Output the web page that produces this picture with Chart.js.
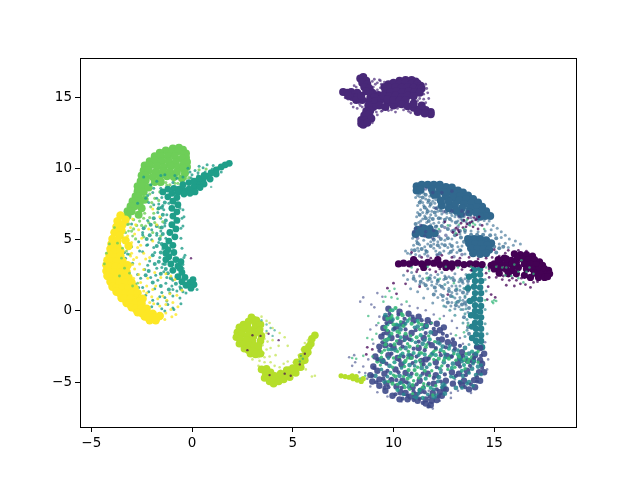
<!DOCTYPE html>
<html><head><meta charset="utf-8">
<style>html,body{margin:0;padding:0;background:#fff}canvas{display:block}</style>
<script src="https://cdn.jsdelivr.net/npm/chart.js@4"></script></head>
<body><canvas id="c" width="640" height="480"></canvas>
<script>
const xTicks=[-5,0,5,10,15];
const yTicks=[-5,0,5,10,15];
const classColors=['#440154','#482878','#3e4a89','#31688e','#26828e','#1f9e89','#35b779','#6ece58','#b5de2b','#fde725'];
// every list is x,y,x,y,... in data units
const top1Core=[7.5,15.35,7.7,15.3,7.9,15.35,8.0,15.15,8.2,15.3,7.95,15.0,8.2,15.0,8.45,14.8,8.15,14.8,8.4,15.1,7.75,15.1,8.85,14.95,9.25,15.15,
8.35,16.3,8.5,16.4,8.65,16.15,8.45,16.0,8.7,15.9,8.55,15.7,8.8,15.6,8.65,15.4,8.95,15.3,9.05,15.0,
8.8,14.7,9.1,14.7,9.4,14.85,9.7,14.6,9.3,14.4,9.0,14.3,9.6,14.3,10.0,14.4,8.75,14.4,10.2,14.55,8.85,14.05,
8.65,14.0,8.55,13.7,8.8,13.8,8.4,13.4,8.6,13.4,8.9,13.5,8.4,13.15,8.5,13.05,8.7,13.2,
10.3,16.15,10.6,16.2,10.9,16.2,11.1,16.1,9.75,15.9,10.0,16.0,10.3,15.95,10.6,16.0,10.9,15.95,11.2,15.95,11.35,15.8,
9.55,15.7,9.8,15.65,10.1,15.7,10.4,15.65,10.7,15.7,11.0,15.65,11.3,15.6,11.4,15.6,9.6,15.4,9.85,15.35,10.15,15.4,10.45,15.35,10.75,15.4,11.05,15.35,11.3,15.3,
9.5,15.1,9.8,15.05,10.1,15.1,10.4,15.0,10.7,15.1,11.0,15.05,9.7,14.85,10.0,14.8,10.3,14.75,10.6,14.8,
10.4,14.5,10.7,14.35,11.0,14.25,11.3,14.15,11.6,14.1,11.85,13.95,11.85,13.8,11.55,13.85,11.2,13.95,11.0,14.55,11.4,14.4];
const top1Dust=[9.1,15.9,9.2,15.5,9.3,15.2,9.0,15.7,9.2,16.0,8.95,16.1,9.4,15.9,9.35,16.15,11.5,15.2,11.3,14.9,11.2,14.75,11.6,14.6,11.5,14.85,10.95,14.75,8.2,14.2,8.0,14.3,8.35,14.4,7.9,14.55,7.75,14.85,9.15,13.95,9.2,13.75,9.45,14.05,10.2,14.2,10.5,14.1,10.85,13.9,9.9,14.1,8.05,15.8,8.15,15.7,9.3,16.2,11.65,15.6,11.6,15.9,8.95,13.2,9.1,15.35,8.95,15.55,9.35,15.65,9.05,16.25,11.7,15.3,11.75,14.9,9.55,16.05,9.4,14.0,9.75,14.05,10.1,13.95,10.75,14.0,8.3,14.55,8.45,14.3,7.6,14.95];
const up3Core=[11.15,8.75,11.4,8.85,11.7,8.85,12.0,8.85,12.3,8.85,12.6,8.7,12.9,8.65,13.2,8.45,13.45,8.3,13.7,8.1,13.95,7.85,14.2,7.6,14.4,7.3,14.6,7.0,14.8,6.65,
11.15,8.45,11.35,8.5,11.9,8.55,12.3,8.55,12.7,8.35,13.0,8.25,13.3,8.05,13.6,7.85,13.85,7.55,14.1,7.25,14.35,6.95,14.55,6.65,12.6,8.0,12.95,7.95,13.25,7.75,13.5,7.5,13.8,7.2,14.1,6.9,14.3,6.6,
12.75,7.65,13.05,7.45,13.4,7.2,13.75,6.9,12.4,7.4,12.75,7.2,13.1,7.05,13.35,6.8,12.15,8.15,12.5,8.35,12.35,7.75,12.0,8.2,
13.7,5.05,14.0,5.05,14.3,5.05,14.6,4.95,14.85,4.75,13.75,4.75,14.05,4.7,14.35,4.7,14.65,4.6,13.85,4.4,14.15,4.35,14.45,4.35,14.75,4.3,13.95,4.05,14.3,4.0,14.6,4.05,
11.2,5.7,11.5,5.8,11.8,5.75,11.1,5.4,11.45,5.45,11.75,5.35,12.05,5.45];
const up3Dust=[11.2,8.1,11.5,8.25,11.8,8.05,11.35,7.75,11.6,7.85,11.95,7.7,12.15,8.15,11.5,7.4,11.8,7.35,12.05,7.55,12.2,7.0,11.9,7.0,11.65,6.85,11.35,7.1,11.15,6.6,11.45,6.45,11.8,6.55,12.1,6.7,12.35,6.5,12.65,6.55,12.9,6.3,11.25,6.2,11.65,6.2,12.0,6.15,12.25,6.2,13.35,6.45,13.6,6.25,14.3,6.05,14.05,6.4,14.65,6.1,14.95,6.0,15.15,5.8,15.35,5.55,15.55,5.3,15.75,5.05,15.35,5.15,15.05,5.35,15.25,4.7,15.55,4.75,15.7,4.45,15.95,4.6,16.3,4.7,16.05,4.9,
10.95,5.1,11.15,4.9,11.5,4.95,11.85,4.85,12.2,4.85,12.55,4.95,12.9,5.05,13.15,4.8,13.4,4.55,12.7,4.45,12.3,4.45,12.0,4.4,11.55,4.5,11.2,4.4,10.9,4.3,10.7,4.05,11.1,3.95,11.55,4.0,12.15,3.95,12.75,4.05,13.15,4.1,
10.5,2.5,10.9,2.7,11.3,2.45,11.65,2.65,12.05,2.35,12.4,2.7,12.75,2.4,13.05,2.6,13.35,2.3,13.6,2.55,11.1,2.1,11.5,1.95,11.9,2.05,12.3,1.8,12.7,2.0,13.1,1.75,13.45,1.95,11.7,1.55,12.1,1.4,12.5,1.55,12.9,1.3,13.3,1.45,13.65,1.2,12.2,.95,12.65,.85,13.05,.9,13.45,.75,12.85,.35,13.25,.3,13.6,.4,11.95,.55,11.5,.9,11.2,1.35,10.85,1.55,
11.1,7.95,11.3,8.0,11.45,7.6,11.7,7.6,11.2,7.4,11.95,7.95,12.1,7.8,11.65,7.15,12.0,7.25,12.25,7.35,11.45,6.9,11.2,6.9,11.85,6.75,11.35,6.3,11.55,6.65,12.4,6.8,12.65,6.85,12.9,6.7,13.05,6.6,12.5,6.2,12.8,6.0,12.15,5.95,11.85,6.05,11.5,5.95,13.2,6.3,13.5,6.6,13.9,6.3,14.2,6.3,14.5,6.35,14.75,6.3,14.85,5.7,14.55,5.6,14.2,5.55,13.85,5.6,13.55,5.5,13.3,5.4,
12.0,4.7,12.4,4.7,12.8,4.7,13.2,4.5,11.7,4.7,11.3,4.65,11.0,4.6,11.6,4.25,12.1,4.2,12.5,4.2,12.95,4.3,13.35,4.25,13.55,4.0,11.25,4.2,10.85,4.0,10.6,4.2,
10.7,2.2,11.0,2.45,11.45,2.25,11.85,2.5,12.2,2.55,12.55,2.45,12.95,2.35,13.25,2.05,13.55,2.25,13.7,1.85,11.3,1.85,11.7,2.15,12.15,1.9,12.5,2.2,12.9,1.75,13.3,1.75,13.55,1.55,11.9,1.8,12.35,1.15,12.75,1.6,13.15,1.2,13.55,.95,12.45,.75,12.9,.6,13.3,.95,13.65,.7,12.6,.3,13.05,.15,13.45,.1,13.7,-.1];
const upGrain3=[11.3,8.25,11.6,8.15,11.85,8.3,11.45,7.95,11.75,7.75,12.0,7.95,12.25,8.0,11.3,7.6,11.55,7.25,11.85,7.5,12.15,7.2,12.3,7.6,12.5,7.6,11.7,7.0,12.05,6.9,12.35,7.05,12.6,7.0,12.85,6.9,13.1,6.8,11.3,6.75,11.6,6.5,11.95,6.45,12.25,6.5,12.55,6.4,12.8,6.45,13.1,6.2,13.45,6.35,13.75,6.1,11.1,6.1,11.4,5.95,11.75,6.3,12.1,5.9,12.4,5.95,12.7,5.75,13.0,5.65,13.3,5.6,13.55,5.65,13.85,5.35,14.15,5.35,14.45,5.35,14.8,5.3,15.1,5.1,15.0,4.5,15.25,4.4,15.45,4.5,15.1,4.1,12.0,5.0,12.35,5.05,12.7,5.1,13.05,5.3,13.35,5.15,13.5,4.85,13.3,4.25,12.9,4.55,12.55,4.6,12.2,4.6,11.85,4.55,11.4,4.35,11.05,4.25,11.2,4.75,11.65,4.15,12.3,4.05,12.85,4.15,
11.0,2.25,11.35,2.05,11.8,2.25,12.2,2.1,12.6,2.3,13.0,2.15,13.4,2.1,13.7,2.1,11.6,1.8,12.05,1.65,12.4,1.7,12.75,1.4,13.1,1.45,13.45,1.3,13.7,1.4,12.0,1.15,12.45,1.05,12.85,1.05,13.2,.65,13.55,.55,12.7,.6,13.1,.4,13.4,.45,13.75,.2,13.5,-.45,13.7,-1.15,13.75,-1.6];
const c2Up=[11.2,5.1,11.55,5.25,11.95,5.1,12.25,5.2,12.6,5.3,12.9,5.6,13.2,5.9,12.55,5.85,11.0,5.55,11.35,6.0,12.9,7.0,13.25,6.6,13.55,6.75,13.85,6.55,12.5,6.95,12.1,7.2,11.95,8.3,11.6,8.55,12.4,8.3,12.9,8.4,13.0,3.8,12.2,3.9,11.7,3.85,11.3,3.85,13.4,3.95,11.1,5.8,11.6,5.55,12.3,5.6,12.0,5.65,14.15,6.5,13.7,6.95,13.4,7.0];
const mid0=[10.5,3.35,10.8,3.3,11.1,3.4,11.4,3.3,11.7,3.4,12.0,3.35,12.3,3.25,12.6,3.35,12.9,3.3,13.2,3.35,13.5,3.25,13.8,3.3,14.1,3.3,14.4,3.25,10.25,3.3,11.5,3.05,12.6,3.05,11.0,3.6,12.2,3.6,12.9,3.1,
14.85,3.2,15.0,3.3,15.3,3.35,15.6,3.3,15.9,3.2,15.0,2.95,15.3,3.0,15.6,2.9,15.9,2.85,16.2,3.05,15.25,2.65,15.7,2.6,16.1,2.6,15.2,3.6,15.5,3.7,
16.0,4.0,16.3,3.95,16.6,3.95,16.9,3.85,16.4,3.65,16.7,3.6,17.0,3.6,17.25,3.45,16.5,3.3,16.8,3.3,17.1,3.25,17.4,3.2,16.6,2.95,16.9,2.95,17.2,2.9,17.5,2.95,17.7,2.85,17.0,2.65,17.3,2.6,17.6,2.6,17.75,2.6,17.2,2.35,17.5,2.35,17.65,2.4,16.5,2.5,16.8,2.35,15.85,3.55,15.6,3.65,16.1,3.4,16.15,3.7];
const mid0Dust=[12.95,5.5,13.2,5.7,13.45,5.85,13.65,6.1,13.9,6.25,14.1,6.4,13.35,6.15,13.7,6.5,13.15,5.35,12.55,6.25,13.95,5.9,14.2,5.75,14.4,6.0,13.1,5.8,13.5,6.35,13.8,6.2,14.0,6.55,14.25,6.6,13.25,5.55,13.6,5.9,
10.9,4.1,11.4,3.75,11.85,3.7,12.4,3.9,12.9,3.75,13.3,3.7,13.75,3.75,14.2,3.65,10.7,2.8,11.2,2.9,11.8,2.9,12.3,2.95,12.9,2.85,13.4,2.9,13.85,2.85,14.6,3.7,14.9,3.75,15.25,3.85,15.55,4.05,15.7,4.25,16.2,4.25,16.6,4.2,
15.1,2.35,15.4,2.2,15.75,2.15,16.1,2.15,15.6,1.8,16.0,1.75,16.3,1.9,16.55,1.85,16.8,1.65,16.95,2.0,17.15,2.05,
10.0,1.95,9.7,1.6,10.15,1.2,10.6,1.9,11.3,1.7,12.7,1.15,14.7,1.7,14.85,1.15,15.05,.95,14.65,.8,9.8,-.4,8.95,-2.7,8.7,-2.55,8.65,-3.05,10.5,-2.1,12.3,-2.9,11.5,-5.3,15.0,4.3,15.45,2.45,15.9,2.3,16.35,2.3,14.75,2.95,14.6,2.65,14.75,2.35,11.15,2.75,12.1,2.75];
const col4=[14.0,2.9,14.3,2.95,14.0,2.5,14.3,2.55,14.05,2.1,14.35,2.1,14.0,1.7,14.3,1.65,14.05,1.25,14.35,1.25,14.0,.85,14.3,.8,14.05,.4,14.35,.35,14.05,0,14.3,-.05,14.1,-.4,14.35,-.45,14.05,-.85,14.3,-.85,14.1,-1.25,14.35,-1.25,14.1,-1.65,14.35,-1.7,14.1,-2.1,14.35,-2.1,14.15,-2.5,14.4,-2.55,13.75,2.4,13.7,1.6,13.8,.7,13.85,-.3,13.9,-1.1,13.9,-1.9];
const col4Dust=[13.1,.6,13.35,.1,13.55,-.2,13.65,-.6,13.55,1.05,13.3,.75,12.95,1.0,13.45,-.85,13.65,-1.35,13.75,-2.35,14.55,-.9,14.55,.1,14.6,1.4,14.55,2.2,13.05,-.3,12.8,.05,12.5,.35,13.3,2.2,12.85,2.3,13.15,1.55,13.5,1.6,12.55,1.85,12.2,2.2,11.75,2.35,13.6,.15,13.7,-.85,13.55,-1.8,14.65,-1.6];
const low2=[9.75,.15,9.6,-.5,9.5,-1.2,9.4,-1.8,9.3,-2.5,9.1,-3.2,9.0,-3.9,8.85,-4.5,8.95,-4.95,9.3,-5.25,9.6,-5.6,9.95,-5.95,10.3,-6.2,10.7,-6.2,11.2,-6.3,11.6,-6.5,11.85,-6.6,12.15,-6.25,12.4,-5.95,12.6,-5.5,12.95,-5.1,13.4,-5.2,13.75,-5.5,14.05,-5.35,14.3,-4.9,14.5,-4.3,14.4,-3.7,14.5,-3.0,14.3,-2.6,
10.3,-.05,10.75,-.2,11.25,-.4,11.7,-.65,12.15,-.9,12.5,-1.15,12.3,-1.35,
9.9,-1.9,10.3,-2.2,9.75,-3.1,10.2,-3.3,10.1,-4.1,9.55,-4.4,10.45,-4.9,10.15,-5.3,10.6,-5.75,11.1,-5.9,11.6,-6.2,11.9,-6.3,12.3,-5.7,12.0,-5.1,11.3,-4.9,12.6,-4.9,10.85,-3.2,10.9,-1.55,11.5,-1.9,11.4,-3.5,12.1,-3.6,12.65,-3.15,13.2,-3.65,13.65,-4.2,14.0,-4.85,14.25,-4.3,13.5,-4.9,13.95,-3.5,14.3,-3.45,12.9,-4.3,10.45,-.9,9.85,-.7,10.4,-3.75,9.3,-4.8,9.65,-5.1,
11.25,-2.6,11.9,-2.4,12.4,-2.0,13.0,-2.3,13.4,-2.9,10.6,-4.35,11.7,-4.4,10.95,-5.35,12.5,-5.45,13.25,-4.4,9.7,-1.5,9.6,-2.4,9.45,-3.5,9.2,-4.2,9.9,-4.85,10.35,-5.7,10.85,-6.0,11.35,-5.6,11.95,-5.75,12.1,-4.5,11.6,-3.4,10.0,-2.55,10.6,-1.85,10.15,-1.1,11.0,-.65,11.6,-1.05,12.05,-1.55,12.7,-2.2,13.3,-3.3,13.7,-3.5,14.05,-3.1];
const lowGrain2=[9.8,-.2,10.25,-.25,10.55,-.55,10.95,-.4,11.4,-.65,11.85,-.85,9.65,-.85,10.05,-1.25,10.6,-1.3,11.1,-1.35,11.6,-1.55,12.0,-1.25,12.45,-1.6,9.5,-1.6,10.2,-1.75,10.8,-2.0,11.25,-2.15,11.75,-2.25,12.2,-1.95,12.65,-1.75,12.95,-2.0,9.45,-2.2,9.85,-2.4,10.45,-2.5,11.0,-2.65,11.55,-2.75,12.1,-2.6,12.6,-2.55,13.05,-2.65,13.3,-2.45,14.1,-2.55,9.3,-2.8,9.9,-3.0,10.5,-3.2,11.15,-3.2,11.75,-3.35,12.35,-3.1,12.9,-3.2,13.45,-3.15,14.0,-3.3,14.35,-3.15,9.2,-3.4,9.65,-3.7,10.3,-3.45,10.95,-3.65,11.5,-3.75,12.15,-3.95,12.7,-3.85,13.3,-3.9,13.8,-3.85,14.4,-4.0,9.05,-4.0,9.7,-4.2,10.25,-4.3,10.9,-4.4,11.45,-4.4,12.0,-4.7,12.55,-4.45,13.1,-4.55,13.6,-4.5,14.15,-4.65,8.95,-4.55,9.5,-4.75,10.15,-4.85,10.65,-5.0,11.15,-5.15,11.75,-5.1,12.35,-4.95,13.3,-5.05,13.85,-5.15,14.15,-4.95,9.15,-5.0,9.75,-5.35,10.4,-5.4,11.0,-5.65,11.55,-5.7,12.15,-5.5,13.55,-5.35,9.55,-5.4,10.1,-5.85,10.7,-5.95,11.3,-6.15,11.8,-6.0,12.25,-6.0,10.45,-6.15,11.0,-6.25,11.45,-6.45,11.75,-6.7];
const lowGrain6=[9.85,.05,10.4,-.2,9.85,-.5,10.35,-.75,10.8,-.55,11.25,-.85,9.7,-1.35,10.3,-1.55,10.85,-1.75,11.3,-1.3,11.75,-1.75,9.55,-2.05,10.15,-2.1,10.7,-2.3,11.2,-2.45,11.65,-2.35,12.05,-2.15,9.55,-2.75,10.2,-2.85,10.75,-2.85,11.4,-2.95,12.0,-2.85,12.5,-2.85,13.0,-3.0,13.6,-3.0,14.2,-2.85,9.4,-3.25,10.0,-3.3,10.7,-3.3,11.3,-3.45,12.0,-3.4,12.5,-3.45,13.1,-3.45,13.75,-3.4,14.2,-3.6,9.35,-3.8,9.95,-3.95,10.55,-3.9,11.2,-3.95,11.9,-4.2,12.4,-3.85,13.05,-3.95,13.55,-4.05,10.0,-4.5,10.5,-4.6,11.25,-4.7,11.8,-4.55,12.7,-4.1,9.75,-4.95,10.5,-5.2,11.0,-4.9,11.5,-5.1,12.1,-5.25,10.2,-5.15,10.8,-5.5,11.45,-5.35,11.95,-5.9,10.95,-5.8];
const lowGrain4=[10.6,-.9,11.05,-1.15,11.45,-1.25,10.3,-1.0,9.8,-1.75,10.55,-2.05,11.1,-2.2,11.55,-2.05,12.3,-2.3,12.8,-2.45,13.2,-2.75,9.9,-2.7,10.35,-3.1,11.25,-3.1,11.95,-2.95,12.55,-3.0,13.4,-3.55,13.95,-3.7,14.35,-3.8,9.75,-3.3,10.4,-4.0,11.05,-3.85,11.65,-3.95,12.35,-4.3,12.85,-4.6,13.75,-4.35,14.35,-4.45,9.4,-4.1,9.7,-4.6,10.75,-4.5,11.35,-4.55,12.2,-4.95,12.4,-5.35,13.65,-5.1,10.3,-5.05,10.75,-5.35,11.25,-5.8,11.7,-5.85,12.0,-5.5,12.55,-5.2,13.4,-5.4,13.95,-5.25,10.5,-5.85,11.15,-6.05];
const low2Dust=[9.0,-2.3,8.75,-3.4,8.5,-3.9,8.3,-4.3,8.1,-3.6,7.8,-3.25,8.05,-3.1,7.95,-3.85,8.6,-4.35,9.3,-.4,9.15,-1.0,8.85,-1.3,9.05,.25,8.9,.45,8.5,.95,8.35,.65,9.2,1.25,9.45,1.0,10.4,.45,10.8,.35,11.2,.2,11.6,.05,12.0,-.25,12.5,-.35,12.9,-.7,13.15,-1.2,12.85,-1.6,13.3,-1.9,13.45,-2.3,12.95,-3.05,13.55,-3.5,9.65,-2.4,9.9,-4.7,10.7,-2.8,11.05,-.8,11.6,-1.2,11.05,-4.15,12.4,-4.15,11.75,-5.6,12.85,-5.75,13.05,-4.8,14.55,-2.2,14.7,-3.4,12.85,-6.1,13.2,-5.6,9.7,-6.0,9.2,-5.7,8.85,-5.3,11.7,-6.75,11.95,-6.85,10.4,-6.35,12.3,-6.3,13.85,-5.75,14.65,-4.1,8.7,-4.75];
const low4=[9.95,-.6,10.35,-1.3,10.6,-2.6,11.2,-1.1,11.85,-1.5,12.45,-2.5,13.0,-2.8,13.3,-3.35,13.75,-3.0,14.1,-3.0,13.55,-2.6,10.1,-2.75,9.5,-3.55,9.8,-3.85,10.3,-4.55,10.8,-3.8,11.4,-4.0,11.9,-3.05,12.5,-3.6,12.95,-3.7,12.25,-4.65,11.5,-5.4,12.15,-5.95,11.05,-6.1,12.45,-5.15,13.9,-4.05,14.2,-3.9,13.75,-5.0,13.3,-5.0,10.75,-5.1,
10.0,-1.3,9.65,-2.05,9.3,-3.4,9.1,-4.55,9.55,-4.95,12.55,-5.8,12.0,-6.05,11.45,-2.3,10.75,-3.1,13.45,-4.55,14.1,-4.5,13.1,-5.4,12.85,-3.2,12.2,-2.2,9.6,-.3];
const low5=[9.95,.05,9.7,-.95,10.15,-.95,10.7,-.7,11.2,-.7,11.65,-1.05,10.35,-1.85,10.9,-2.05,11.35,-1.7,11.8,-2.0,12.35,-2.75,12.75,-2.65,13.2,-3.05,13.6,-3.25,14.0,-3.45,9.75,-2.7,10.45,-3.0,11.0,-2.95,11.55,-3.05,12.1,-3.1,10.05,-3.6,10.55,-3.6,11.1,-3.55,11.8,-3.75,12.3,-4.05,12.9,-4.0,13.5,-3.8,9.85,-4.35,10.35,-5.05,10.85,-4.6,11.6,-4.75,11.3,-5.55,11.85,-5.4,12.55,-3.3,13.0,-4.65,13.9,-2.85,13.4,-4.2,10.2,-5.55,11.45,-6.1];
const low6=[9.9,-.35,10.2,-.5,9.6,-1.15,10.0,-.95,10.5,-1.05,10.9,-.9,11.4,-.95,9.9,-1.6,10.6,-1.6,11.15,-1.85,9.6,-2.35,10.05,-2.35,10.8,-2.5,11.3,-2.95,11.8,-3.2,12.25,-3.35,12.75,-3.35,13.25,-3.2,13.7,-3.6,10.6,-3.5,11.05,-4.15,10.7,-4.75,11.15,-4.45,11.55,-4.2,10.3,-3.25,10.55,-5.35,10.95,-5.2,9.95,-5.1,13.9,-3.25,12.1,-2.7,9.7,-.55,10.1,.2,9.4,-2.9,9.2,-3.55,10.2,-1.45,10.45,-.3,9.75,-1.95,11.6,-2.55,13.5,-3.45,11.4,-3.75,10.9,-3.3,10.1,-4.6,11.7,-5.2,10.35,-2.65,10.75,-4.15];
const lowGreenDust=[8.7,-1.9,8.95,-2.0,9.15,-1.6,9.25,-.85,8.95,-3.2,8.6,-4.55,8.35,-4.75,8.15,-3.35,7.95,-3.3,8.5,-3.15,8.75,-.35,9.5,.65,9.6,1.0,9.8,1.4,10.05,1.55,9.9,.95,10.2,.85,10.65,.65,11.9,-.85,12.3,-.55,13.1,-1.7,13.5,-1.5,13.7,-1.0,14.55,.75,14.9,.65,15.0,.75,14.95,.55,15.1,.7,11.65,2.3,12.3,2.25,13.0,1.95,10.9,3.05,11.7,3.1,12.6,3.1,13.2,3.05,13.85,3.1,14.6,3.05,15.1,3.1,15.6,3.05,16.2,2.75,16.6,2.75,16.35,3.55,15.85,2.45,16.2,2.3,14.75,2.8,13.1,5.45,13.5,5.75,14.05,6.05,13.8,6.0,12.7,6.0,12.25,5.75,14.5,5.75,13.25,6.05,13.65,6.4,13.95,6.15,16.0,3.25,15.4,3.05,16.75,3.05,16.95,2.6,15.55,2.5,16.45,2.0];
const c8Core=[2.95,-.45,3.05,-.6,2.8,-.75,3.15,-.9,2.55,-.95,2.75,-1.1,3.1,-1.25,2.35,-1.15,2.55,-1.3,2.85,-1.45,3.2,-1.5,2.25,-1.5,2.45,-1.65,2.75,-1.75,3.05,-1.8,2.2,-1.85,2.4,-2.0,2.7,-2.05,3.0,-2.1,2.35,-2.3,2.55,-2.35,2.85,-2.4,3.1,-2.45,2.6,-2.65,2.8,-2.75,3.05,-2.8,3.3,-2.75,2.9,-3.0,3.15,-3.05,3.4,-3.0,3.2,-.65,3.4,-.95,3.35,-1.35,3.4,-2.1,3.3,-2.45,3.45,-1.75,
3.45,-4.1,3.65,-4.35,3.6,-4.7,3.8,-4.6,3.85,-4.95,4.05,-5.1,4.1,-4.85,4.3,-4.95,4.35,-4.65,4.55,-4.8,4.65,-4.5,4.85,-4.65,4.95,-4.3,5.15,-4.35,5.25,-3.95,5.4,-3.95,5.45,-3.55,5.6,-3.45,5.65,-3.05,5.75,-2.9,5.8,-2.5,5.9,-2.3,5.95,-1.95,6.1,-1.7,4.1,-4.55,3.9,-4.3,3.7,-4.05,4.4,-4.4,4.7,-4.15,5.0,-4.0,5.2,-3.6,5.45,-3.2,5.6,-2.7];
const c8Dust=[3.5,-1.25,3.7,-1.55,3.4,-1.85,3.75,-2.15,3.5,-2.4,3.7,-2.7,3.85,-3.2,3.6,-3.25,4.0,-2.05,4.35,-1.55,4.6,-1.85,4.3,-2.45,4.75,-2.45,4.15,-3.1,3.35,-3.5,3.6,-3.6,3.3,-3.85,3.0,-3.4,4.4,-4.2,4.8,-3.95,5.05,-3.6,5.3,-3.1,5.45,-2.7,5.6,-2.25,5.75,-2.05,4.75,-3.55,4.55,-3.7,4.1,-3.85,5.65,-4.1,5.95,-4.6,6.1,-4.55,4.0,-1.2,3.85,-.85,3.7,-.7,3.45,-.4,3.6,-1.95,3.9,-2.6,3.55,-2.95,3.9,-3.6,3.3,-3.25,4.35,-3.95];
const c8Strip=[7.4,-4.55,7.6,-4.6,7.8,-4.65,8.0,-4.75,8.2,-4.85,8.4,-4.95,7.95,-4.55,8.15,-4.6,8.5,-4.75];
const c7Core=[-.95,11.4,-.65,11.45,-.45,11.3,-.3,11.05,-1.3,11.25,-1.6,11.1,-1.0,11.15,-.7,11.2,-.4,11.0,-.3,10.75,-1.85,10.85,-1.55,10.85,-1.2,10.85,-.85,10.85,-.5,10.7,-.25,10.45,-2.1,10.5,-1.85,10.55,-1.5,10.5,-1.15,10.5,-.8,10.45,-.4,10.35,-.25,10.1,-2.35,10.2,-2.1,10.2,-1.75,10.15,-1.4,10.1,-1.05,10.15,-.7,10.1,-.45,10.0,-2.4,9.85,-2.15,9.85,-1.8,9.75,-1.45,9.8,-1.1,9.75,-.75,9.75,-.35,9.65,-2.5,9.5,-2.3,9.5,-1.95,9.4,-1.6,9.45,-1.25,9.45,-.9,9.4,-.5,9.3,-2.55,9.1,-2.3,9.15,-1.85,9.05,-1.55,9.05,-2.7,8.75,-2.45,8.75,-2.7,8.4,-2.55,8.4,-2.8,8.05,-2.65,8.05,-2.95,7.7,-2.75,7.7,-3.05,7.35,-2.85,7.35,-3.2,7.0,-3.0,7.0,-2.6,7.55,-2.5,7.2,-2.35,7.8,-2.65,6.75,-3.2,6.65,-2.4,8.35,-2.15,8.65];
const c7Dust=[-1.3,9.0,-.9,9.15,-.5,9.05,-.3,9.3,-1.1,8.85,-.7,8.95,-.15,9.35,-1.6,8.85,-1.25,8.8,-.85,8.95,-.55,8.85,-2.1,8.2,-1.85,7.9,-1.6,8.35,-2.35,6.85,-2.1,6.55,-1.85,6.2,-1.6,5.85,-1.95,5.5,-1.55,5.25,-2.3,5.95,-2.6,6.3,-2.9,6.4,-3.15,6.1,-3.4,6.45,-3.65,5.8,-3.3,5.5,-3.75,5.0,-3.35,4.85,-3.9,4.5,-2.8,5.05,-4.2,3.15,-3.7,3.3,-3.1,3.95,.35,9.9,.7,9.95,.95,9.75,1.3,10.05,.55,9.55,-2.9,5.75,-2.4,5.2,-2.5,6.0,-2.15,6.2,-2.75,6.0,-2.4,6.5,-1.9,6.85,-1.45,6.25,-3.0,5.6,-3.45,5.15,-2.05,7.3,-2.0,7.6,-1.7,7.15,-1.65,7.75];
const c5Core=[1.85,10.35,1.65,10.25,1.45,10.1,1.2,9.9,.95,9.7,.75,9.45,1.2,9.6,.55,9.2,.9,9.25,.3,8.95,.6,8.9,.1,8.7,.4,8.65,-.15,8.55,.15,8.35,-.4,8.45,-.1,8.25,-.65,8.55,-.4,8.2,-.9,8.6,-.7,8.3,-1.2,8.55,-1.0,8.25,-1.45,8.35,-.15,9.0,.1,9.1,-.45,8.85,.35,9.3,.6,9.5,
-.75,7.95,-.95,7.7,-.7,7.45,-1.0,7.2,-.75,6.95,-.95,6.65,-.75,6.35,-1.0,6.05,-.8,5.75,-1.1,5.5,-.85,5.2,-1.15,4.9,-.95,4.6,-1.2,4.3,-.9,4.1,-1.15,3.8,-.8,3.6,-1.05,3.3,-.7,3.15,-.95,2.85,-.5,2.7,-.7,2.4,-.35,2.35,-.5,2.05,-.1,2.0,-.3,1.8,.1,1.85,-.05,1.6,.05,2.2,-.6,3.0,-1.3,4.05,-1.35,4.55,-1.3,3.6,-.55,3.45,-1.2,8.0];
const c5Dust=[1.45,9.75,1.0,9.95,.65,9.75,.3,9.7,.0,9.55,.15,9.85,.55,10.05,1.05,10.2,.75,10.25,-.1,9.75,.35,10.15,-1.9,8.6,-2.2,8.1,-1.95,8.3,-1.5,7.95,-1.65,7.5,-1.4,7.1,-1.25,6.75,-1.55,6.5,-1.35,6.15,-1.55,5.6,-1.3,5.1,-1.65,4.8,-1.45,4.35,-1.85,4.1,-1.6,3.75,-1.45,3.3,-1.75,3.0,-1.4,2.75,-2.1,3.5,-2.35,2.9,-2.05,2.35,-1.7,2.15,-1.3,1.95,-1.0,1.75,-.75,1.4,-.95,1.05,-.6,.9,-1.25,.7,-1.5,1.3,-1.85,1.55,-2.3,1.1,-2.65,1.65,-2.7,2.55,-2.95,3.35,-3.3,3.7,-3.0,4.5,-2.6,4.2,-2.25,4.6,-2.45,5.35,-2.0,5.0,-1.75,5.45,-.55,.5,-.95,.2,-1.35,.0,-1.7,-.35,-.55,5.8,-.5,6.5,-.45,7.1,-.35,3.9,-.45,3.0,-.3,1.25,.25,1.5,-3.75,3.5,-3.6,2.5,-3.5,1.9,-3.0,1.2,-2.5,.55,-2.0,.3,-2.7,7.55,-2.3,7.9,-1.9,7.45,-2.4,9.4,-1.55,9.5,-.75,9.3,-3.0,6.1,-3.2,4.0,
-1.45,7.4,-1.7,6.9,-1.35,5.95,-1.75,5.3,-2.0,5.7,-2.2,6.35,-2.45,5.5,-2.65,4.85,-2.2,4.65,-2.45,4.15,-1.9,4.45,-2.2,3.2,-1.8,2.5,-2.55,2.3,-2.8,1.85,-2.45,1.65,-2.15,1.35,-1.6,1.0,-1.1,1.25,-1.35,.95,-1.95,.75,-2.4,.95,-1.7,.5,-1.2,.45,-1.5,.15,-.9,.1,-3.25,2.55,-3.35,1.5,-3.6,1.7,-3.5,3.4,-3.75,2.9,-3.95,2.4,-3.15,3.1,-3.35,4.1,-3.6,4.75,-.45,3.25,-.4,3.75,-.5,4.4,-.55,5.1,-.45,5.95,-.4,6.6,-.6,7.2,-1.55,8.6,-2.05,8.85,-1.75,9.1,-.95,9.0,-.45,9.4,-.05,9.35,-.85,9.5,-1.35,9.55,-.2,10.0,.3,9.5,-1.75,7.9,-2.15,7.6,-1.15,7.55,-1.5,3.05,-1.25,2.35,-.95,2.15,-.6,1.7,-.95,1.5,-.45,1.35];
const leftGrain=[-1.5,4.7,-1.55,4.1,-1.35,3.3,-1.3,2.95,-1.65,3.45,-1.2,2.65,-1.55,2.6,-1.05,2.3,-.8,1.9,-.55,1.55,-1.35,7.6,-1.5,7.25,-1.45,6.75,-1.3,6.35,-1.5,5.85,-1.45,5.4,-1.6,5.05,-1.75,4.55,-1.95,3.9,-1.85,3.3,-2.15,2.8,-2.3,2.5,-1.95,2.0,-1.55,1.75,-1.15,1.5,-2.1,5.3,-2.25,5.05,-1.75,5.95,-2.05,6.05,-2.4,5.8,-1.9,6.5,-1.65,7.2];
const c9Core=[-3.55,6.7,-3.3,6.4,-3.7,6.3,-3.45,6.05,-3.75,5.9,-3.5,5.65,-3.85,5.5,-3.6,5.3,-3.95,5.05,-3.7,4.9,-4.0,4.7,-3.7,4.5,-4.05,4.35,-3.85,4.15,-3.55,4.2,-4.1,3.95,-3.85,3.75,-3.55,3.85,-4.2,3.55,-4.05,3.45,-3.75,3.45,-3.45,3.5,-4.25,3.2,-4.1,3.1,-3.8,3.1,-3.5,3.1,-3.2,3.2,-4.25,2.8,-4.15,2.75,-3.85,2.7,-3.55,2.7,-3.25,2.75,-4.2,2.45,-4.05,2.35,-3.75,2.35,-3.45,2.35,-3.15,2.35,-4.05,2.05,-3.9,1.95,-3.6,2.0,-3.3,2.0,-3.0,2.0,-3.95,1.7,-3.75,1.6,-3.45,1.65,-3.15,1.6,-2.85,1.6,-3.75,1.35,-3.6,1.25,-3.3,1.25,-3.0,1.2,-2.7,1.25,-3.5,.9,-3.35,.85,-3.05,.85,-2.75,.85,-2.45,.85,-3.25,.55,-3.1,.5,-2.8,.5,-2.5,.5,-3.0,.25,-2.8,.15,-2.5,.15,-2.25,.15,-2.7,-.1,-2.5,-.15,-2.2,-.2,-1.95,-.2,-2.35,-.4,-2.15,-.5,-1.85,-.5,-1.6,-.35,-2.1,-.65,-1.8,-.65,-3.15,4.55,-3.3,4.95];
const c9Dust=[-2.9,3.6,-2.6,3.3,-2.85,2.95,-2.65,2.55,-2.4,2.9,-2.2,2.3,-2.55,2.0,-2.25,1.75,-1.95,1.5,-2.4,1.4,-2.0,1.0,-1.7,.85,-1.45,1.05,-1.9,.5,-1.6,.35,-1.3,.45,-1.05,.1,-1.3,-.15,-1.0,-.4,-1.35,-.6,-.8,-.25,-.7,.3,-.95,.6,-1.1,1.2,-.75,1.1,-.5,1.45,-3.0,4.05,-2.7,4.45,-2.5,5.1,-2.85,5.4,-2.4,4.05,-2.1,3.75,-1.85,2.7,-1.55,2.35,-3.05,5.85,-2.8,6.05,-2.95,6.45,-2.65,5.7,-1.95,4.9,-2.15,5.75,-1.75,6.05,-1.6,6.6,-1.95,7.15,-1.3,2.6,-.85,2.2,-1.05,2.45,-2.9,2.3,-2.95,3.25,-3.05,3.85,-2.75,3.75,-2.55,4.6,-2.25,1.25,-1.8,1.75,-2.1,.6,-1.25,.75,-2.3,3.65,-3.2,5.25,-3.0,4.8,-2.8,.95,-2.6,1.05];
const c7Left=[-4.35,3.3,-4.25,4.05,-4.1,4.7,-3.85,5.85,-3.45,4.4,-3.7,4.75,-3.25,4.2,-3.5,3.7,-3.35,3.0,-3.6,2.45,-3.1,2.65,-2.95,1.75,-2.7,1.95,-3.2,6.05,-2.95,5.25,-3.15,5.6];
const far0=[3.0,-1.7,2.75,-2.75,3.8,-1.6,3.4,-1.75,4.3,-2.05,5.6,-3.0,5.35,-3.75,3.85,-4.5,4.6,-4.4,4.9,-4.55,-.05,3.7];
const farTeal=[3.45,-.65,3.7,-.95,3.9,-1.2,3.7,-1.4,4.1,-1.35,4.0,-1.75,5.5,-3.35,5.4,-3.15,5.35,-3.55,.95,8.7];
// -- layers ----------------------------------------------------------------
function pts(a){const r=[];for(let i=0;i<a.length;i+=2)r.push({x:a[i],y:a[i+1]});return r;}
function hexA(h,a){const n=parseInt(h.slice(1),16);return `rgba(${n>>16},${(n>>8)&255},${n&255},${a})`;}
const layers=[
 [top1Core,1,4,1],[top1Dust,1,1.4,.7],
 [up3Dust,3,1.5,.6],[upGrain3,3,2,.75],[up3Core,3,4,1],[c2Up,2,1.8,.6],
 [col4Dust,4,1.5,.65],[col4,4,3.2,1],[mid0,0,3.6,1],[mid0Dust,0,1.4,.75],
 [low2,2,3.2,.9],[low2Dust,2,1.3,.6],[low4,4,2.4,.85],[low5,5,2.1,.85],[low6,6,2.1,.9],
 [lowGrain2,2,2.1,.9],[lowGrain4,4,1.9,.85],[lowGrain6,6,1.7,.9],[lowGreenDust,6,1.3,.7],
 [c8Core,8,3.8,1],[c8Dust,8,1.3,.6],[c8Strip,8,2.6,1],[far0,0,1.2,.7],[farTeal,5,1.2,.6],
 [c7Core,7,4,1],[c7Dust,7,1.6,.8],[c5Core,5,3.4,1],[c5Dust,5,1.5,.8],[leftGrain,5,2,.85],
 [c9Core,9,4.2,1],[c9Dust,9,1.5,.8],[c7Left,7,1.4,.8]
];
const datasets=layers.map((l,i)=>({data:pts(l[0]),pointRadius:l[2],pointBorderWidth:0,
 pointBackgroundColor:hexA(classColors[l[1]],l[3]),showLine:false,order:layers.length-i}));
const frame={id:'frame',afterDraw(c){const a=c.chartArea,g=c.ctx;g.save();g.strokeStyle='#000';g.lineWidth=1;
 g.strokeRect(Math.round(a.left)+.5,Math.round(a.top)+.5,Math.round(a.width),Math.round(a.height));g.restore();}};
const fmt=v=>String(v).replace('-','\u2212');
const tickFont={family:'"DejaVu Sans"',size:13.5};
new Chart(document.getElementById('c'),{type:'scatter',data:{datasets},plugins:[frame],options:{
 responsive:false,animation:false,layout:{padding:{top:58,right:64,left:0,bottom:0}},
 plugins:{legend:{display:false},tooltip:{enabled:false}},
 scales:{
  x:{type:'linear',min:-5.56,max:19.06,afterBuildTicks(s){s.ticks=xTicks.map(v=>({value:v}));},
     afterFit(s){s.height=53;},grid:{drawOnChartArea:false,color:'#000',tickLength:5,tickColor:'#000'},
     border:{color:'#000'},ticks:{callback:fmt,color:'#000',font:tickFont,maxRotation:0,padding:3,autoSkip:false}},
  y:{type:'linear',min:-8.14,max:17.74,afterBuildTicks(s){s.ticks=yTicks.map(v=>({value:v}));},
     afterFit(s){s.width=80;},grid:{drawOnChartArea:false,color:'#000',tickLength:5,tickColor:'#000'},
     border:{color:'#000'},ticks:{callback:fmt,color:'#000',font:tickFont,padding:3,autoSkip:false}}
 }}});
</script></body></html>
